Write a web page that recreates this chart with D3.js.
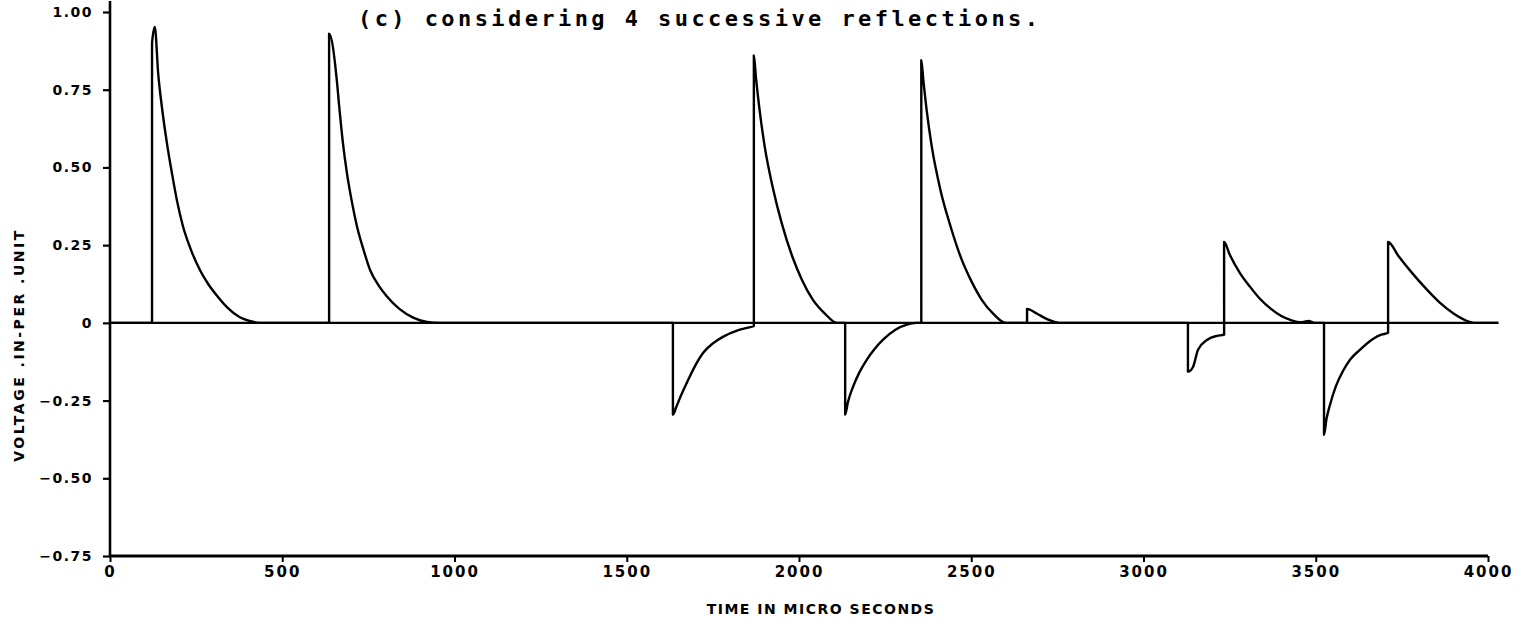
<!DOCTYPE html>
<html>
<head>
<meta charset="utf-8">
<script src="https://cdn.jsdelivr.net/npm/d3@7"></script>
<style>
  html, body { margin: 0; padding: 0; background: #fff; }
  svg { display: block; }
  .tick text { font-family: 'DejaVu Sans', sans-serif; font-weight: bold; fill: #000; }
</style>
</head>
<body>
<div id="chart"></div>
<script>
const timeTicks = [0, 500, 1000, 1500, 2000, 2500, 3000, 3500, 4000]
const timeLabels = ['0', '500', '1000', '1500', '2000', '2500', '3000', '3500', '4000']
const voltTicks = [1, 0.75, 0.5, 0.25, 0, -0.25, -0.5, -0.75]
const voltLabels = ['1.00', '0.75', '0.50', '0.25', '0', '\u22120.25', '\u22120.50', '\u22120.75']

// [time us, voltage pu]
const pulse1 = [[0, 0], [122, 0], [122, 0.9], [130, 0.952], [140, 0.8], [150, 0.7], [165, 0.58], [180, 0.48], [195, 0.39], [212, 0.31], [235, 0.235], [261, 0.17], [285, 0.125], [310, 0.088], [340, 0.05], [377, 0.018], [405, 0.006], [435, 0]]
const pulse2 = [[636, 0], [636, 0.93], [658, 0.785], [665, 0.7], [676, 0.58], [688, 0.48], [702, 0.39], [717, 0.31], [736, 0.235], [755, 0.17], [780, 0.12], [804, 0.085], [840, 0.045], [880, 0.017], [920, 0.003], [960, 0]]
const pulse3 = [[1634, 0], [1634, -0.295], [1644, -0.27], [1655, -0.24], [1670, -0.203], [1684, -0.17], [1700, -0.135], [1722, -0.096], [1750, -0.066], [1779, -0.045], [1820, -0.025], [1849, -0.016], [1869, -0.01]]
const pulse4 = [[1869, 0.86], [1875, 0.79], [1885, 0.69], [1900, 0.57], [1925, 0.43], [1950, 0.32], [1980, 0.215], [2010, 0.135], [2040, 0.075], [2075, 0.03], [2110, 0]]
const pulse5 = [[2134, 0], [2134, -0.295], [2142, -0.255], [2157, -0.205], [2175, -0.16], [2197, -0.118], [2220, -0.083], [2244, -0.054], [2280, -0.022], [2313, -0.006], [2340, 0], [2355, 0]]
const pulse6 = [[2355, 0.845], [2361, 0.78], [2371, 0.68], [2385, 0.57], [2410, 0.43], [2440, 0.31], [2470, 0.21], [2500, 0.135], [2530, 0.075], [2565, 0.028], [2600, 0]]
const pulse7 = [[2662, 0], [2662, 0.045], [2690, 0.03], [2720, 0.012], [2755, 0]]
const pulse8 = [[3129, 0], [3129, -0.157], [3144, -0.141], [3158, -0.087], [3184, -0.055], [3213, -0.042], [3234, -0.038]]
const pulse9 = [[3234, 0.26], [3250, 0.22], [3280, 0.16], [3310, 0.115], [3340, 0.075], [3370, 0.045], [3400, 0.022], [3430, 0.008], [3455, 0.002], [3480, 0.006], [3495, 0]]
const pulse10 = [[3524, 0], [3524, -0.36], [3531, -0.31], [3541, -0.265], [3558, -0.205], [3579, -0.155], [3600, -0.118], [3628, -0.087], [3666, -0.052], [3690, -0.038], [3710, -0.032]]
const pulse11 = [[3710, 0.26], [3740, 0.215], [3780, 0.16], [3820, 0.11], [3860, 0.065], [3900, 0.03], [3935, 0.008], [3960, 0], [4030, 0]]

const trace = [].concat(pulse1, pulse2, pulse3, pulse4, pulse5, pulse6, pulse7, pulse8, pulse9, pulse10, pulse11)

const width = 1521
const height = 627

const svg = d3.select('#chart').append('svg')
  .attr('width', width)
  .attr('height', height)

const x = d3.scaleLinear()
  .domain([0, 4000])
  .range([110, 1488])
const y = d3.scaleLinear()
  .domain([-0.75, 1])
  .range([556, 12])

// zero line
svg.append('line')
  .attr('x1', x(0)).attr('x2', x(4030))
  .attr('y1', y(0)).attr('y2', y(0))
  .style('stroke', '#000')
  .style('stroke-width', 2.4)

svg.append('path')
  .datum(trace)
  .attr('d', d3.line().x(d => x(d[0])).y(d => y(d[1])).curve(d3.curveMonotoneX))
  .style('fill', 'none')
  .style('stroke', '#000')
  .style('stroke-width', 2.4)
  .style('stroke-linejoin', 'round')

const axisY = d3.axisLeft(y)
  .tickValues(voltTicks)
  .tickFormat((d, i) => voltLabels[i])
  .tickSize(7)
  .tickPadding(10)
svg.append('g')
  .classed('axis y', true)
  .attr('transform', `translate(${x(0)},0)`)
  .call(axisY)
  .call(g => g.select('.domain').remove())
  .call(g => g.selectAll('.tick line').style('stroke', '#000').style('stroke-width', 2.2))
  .call(g => g.selectAll('.tick text').style('font-size', '14px').style('letter-spacing', '1.5px'))

const axisX = d3.axisBottom(x)
  .tickValues(timeTicks)
  .tickFormat((d, i) => timeLabels[i])
  .tickSize(6)
  .tickPadding(4)
svg.append('g')
  .classed('axis x', true)
  .attr('transform', `translate(0,${y(-0.75)})`)
  .call(axisX)
  .call(g => g.select('.domain').remove())
  .call(g => g.selectAll('.tick line').style('stroke', '#000').style('stroke-width', 2))
  .call(g => g.selectAll('.tick text').style('font-size', '15px').style('letter-spacing', '2px'))

// axis frame lines
svg.append('line')
  .attr('x1', x(0)).attr('x2', x(0))
  .attr('y1', y(1.035)).attr('y2', y(-0.75))
  .style('stroke', '#000')
  .style('stroke-width', 2.6)
svg.append('line')
  .attr('x1', x(0)).attr('x2', x(4000))
  .attr('y1', y(-0.75)).attr('y2', y(-0.75))
  .style('stroke', '#000')
  .style('stroke-width', 2.8)

svg.append('text')
  .attr('x', 821)
  .attr('y', 614)
  .attr('text-anchor', 'middle')
  .style('font-family', "'DejaVu Sans', sans-serif")
  .style('font-weight', 'bold')
  .style('font-size', '14px')
  .style('letter-spacing', '1.5px')
  .text('TIME IN MICRO SECONDS')

svg.append('text')
  .attr('transform', 'translate(24,345) rotate(-90)')
  .attr('text-anchor', 'middle')
  .style('font-family', "'DejaVu Sans', sans-serif")
  .style('font-weight', 'bold')
  .style('font-size', '14px')
  .style('letter-spacing', '2.5px')
  .text('VOLTAGE .IN-PER .UNIT')

svg.append('text')
  .attr('x', 358)
  .attr('y', 26)
  .attr('textLength', 680)
  .attr('lengthAdjust', 'spacing')
  .style('font-family', "'DejaVu Sans Mono', monospace")
  .style('font-weight', 'bold')
  .style('font-size', '22px')
  .text('(c) considering 4 successive reflections.')
</script>
</body>
</html>
